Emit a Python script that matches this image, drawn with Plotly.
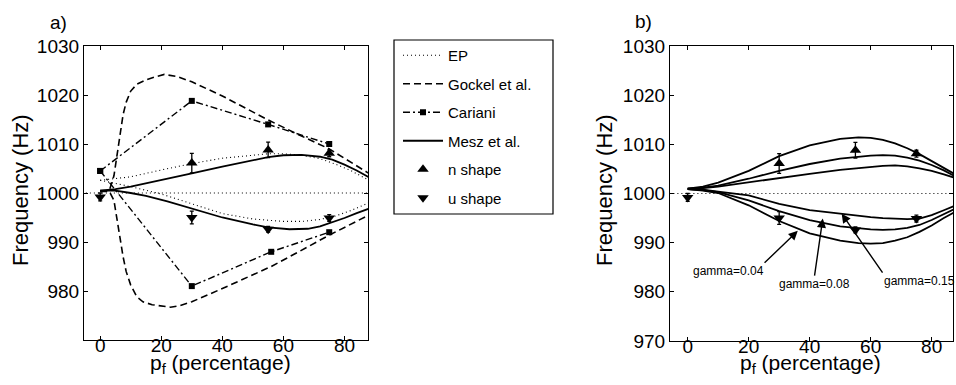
import plotly.graph_objects as go

# ---------------- data: panel a ----------------
ep_flat_x = [-6, 90]
ep_flat_y = [1000, 1000]
ep_up_x = [0, 10, 20, 30, 40, 50, 55, 60, 66, 72, 77, 82, 88]
ep_up_y = [1002.6, 1003.3, 1004.7, 1006.0, 1007.1, 1007.8, 1008.0, 1008.0, 1007.7, 1007.0, 1005.9, 1004.6, 1002.6]
ep_lo_x = [0, 10, 20, 24, 30, 40, 50, 60, 66, 72, 77, 82, 88]
ep_lo_y = [1002.6, 1001.3, 999.8, 999.0, 997.8, 995.8, 994.7, 994.2, 994.2, 994.6, 995.3, 996.4, 998.0]

gockel_up_x = [0, 3, 4.5, 5.5, 6.5, 7.5, 8.5, 10, 12, 15, 18, 21, 25, 30, 40, 55, 65, 75, 88]
gockel_up_y = [1000.3, 1000.5, 1003.5, 1008.0, 1012.5, 1016.0, 1018.5, 1020.8, 1022.2, 1023.1, 1023.7, 1024.2, 1023.8, 1022.7, 1019.8, 1014.9, 1011.9, 1009.0, 1004.0]
gockel_lo_x = [0, 3, 4.5, 5.5, 6.5, 7.5, 8.5, 10, 12, 14, 17, 20, 23, 26, 30, 40, 56, 65, 75, 88]
gockel_lo_y = [1000.3, 1000.3, 998.5, 994.5, 990.5, 987.0, 984.0, 981.2, 978.8, 977.8, 977.2, 976.9, 976.7, 977.0, 977.8, 980.5, 985.0, 988.0, 991.4, 995.5]

cariani_up_x = [0, 30, 55, 75]
cariani_up_y = [1004.5, 1018.8, 1014.0, 1010.0]
cariani_lo_x = [0, 30, 56, 75]
cariani_lo_y = [1004.5, 981.0, 988.0, 992.0]

mesz_up_x = [0, 5, 10, 20, 30, 40, 50, 55, 60, 66, 72, 76, 80, 84, 88]
mesz_up_y = [1000.5, 1000.8, 1001.3, 1002.6, 1004.0, 1005.4, 1006.7, 1007.3, 1007.7, 1007.8, 1007.4, 1006.8, 1005.8, 1004.6, 1003.2]
mesz_lo_x = [0, 5, 10, 15, 22, 30, 40, 50, 55, 62, 68, 72, 76, 80, 84, 88]
mesz_lo_y = [1000.5, 1000.5, 1000.0, 999.4, 998.3, 996.8, 995.0, 993.6, 993.0, 992.6, 992.7, 993.2, 994.0, 994.9, 995.9, 996.8]

n_x = [30, 55, 75]
n_y = [1006.1, 1008.8, 1008.1]
n_err = [2.0, 1.6, 0.7]
u_x = [0, 30, 55, 75]
u_y = [999.2, 995.0, 992.6, 994.9]
u_err = [0.8, 1.3, 0.6, 0.7]

# ---------------- data: panel b (Mesz et al., three gammas) ----------------
gb_x = [0, 5, 10, 20, 30, 40, 50, 56, 60, 64, 68, 72, 76, 80, 84, 88]
g004_up = [1001.0, 1001.4, 1002.2, 1004.6, 1007.6, 1009.8, 1011.1, 1011.4, 1011.3, 1010.9, 1010.2, 1009.2, 1008.0, 1006.6, 1005.1, 1003.8]
g008_up = [1001.0, 1001.2, 1001.6, 1003.0, 1004.6, 1006.0, 1007.1, 1007.5, 1007.7, 1007.8, 1007.7, 1007.3, 1006.7, 1005.8, 1004.7, 1003.4]
g015_up = [1001.0, 1001.1, 1001.4, 1002.3, 1003.2, 1004.0, 1004.8, 1005.2, 1005.4, 1005.6, 1005.7, 1005.5, 1005.1, 1004.6, 1003.9, 1003.1]
g015_lo = [1000.9, 1000.8, 1000.4, 999.6, 997.9, 996.6, 995.9, 995.4, 995.2, 995.0, 994.9, 994.8, 994.9, 995.6, 996.6, 997.6]
g008_lo = [1000.9, 1000.7, 1000.3, 998.6, 996.4, 994.6, 993.3, 992.9, 992.7, 992.6, 992.7, 993.0, 993.6, 994.6, 995.8, 997.0]
g004_lo = [1000.9, 1000.6, 1000.1, 997.6, 994.4, 991.9, 990.4, 989.9, 989.8, 989.9, 990.4, 991.1, 992.2, 993.5, 995.0, 996.4]

gamma_labels = ["gamma=0.04", "gamma=0.08", "gamma=0.15"]

x_ticks = [0, 20, 40, 60, 80]
ya_ticks = [980, 990, 1000, 1010, 1020, 1030]
yb_ticks = [970, 980, 990, 1000, 1010, 1020, 1030]

FONT = "Liberation Sans, Arial, Helvetica, sans-serif"
W, H = 956, 385

fig = go.Figure()

def line(x, y, name, dash, width, group, show, axis="a", mode="lines", marker=None):
    xa, ya = ("x", "y") if axis == "a" else ("x2", "y2")
    fig.add_trace(go.Scatter(
        x=x, y=y, mode=mode, name=name, legendgroup=group, showlegend=show,
        line=dict(color="black", width=width, dash=dash),
        marker=marker, xaxis=xa, yaxis=ya, hoverinfo="skip"))

DOT = "1px,3px"
DASH = "7px,4px"
DASHDOT = "7px,3px,2px,3px"

# panel a
line(ep_flat_x, ep_flat_y, "EP", DOT, 1.1, "ep", True)
line(ep_up_x, ep_up_y, "EP", DOT, 1.1, "ep", False)
line(ep_lo_x, ep_lo_y, "EP", DOT, 1.1, "ep", False)
line(gockel_up_x, gockel_up_y, "Gockel et al.", DASH, 1.6, "gockel", True)
line(gockel_lo_x, gockel_lo_y, "Gockel et al.", DASH, 1.6, "gockel", False)
sq = dict(symbol="square", size=6, color="black")
line(cariani_up_x, cariani_up_y, "Cariani", DASHDOT, 1.4, "cariani", True, mode="lines+markers", marker=sq)
line(cariani_lo_x, cariani_lo_y, "Cariani", DASHDOT, 1.4, "cariani", False, mode="lines+markers", marker=sq)
line(mesz_up_x, mesz_up_y, "Mesz et al.", "solid", 1.8, "mesz", True)
line(mesz_lo_x, mesz_lo_y, "Mesz et al.", "solid", 1.8, "mesz", False)

def pts(x, y, err, name, sym, show, axis):
    xa, ya = ("x", "y") if axis == "a" else ("x2", "y2")
    fig.add_trace(go.Scatter(
        x=x, y=y, mode="markers", name=name, legendgroup=name, showlegend=show,
        marker=dict(symbol=sym, size=10, color="black"),
        error_y=dict(type="data", array=err, color="black", thickness=1.3, width=2),
        xaxis=xa, yaxis=ya, hoverinfo="skip"))

pts(n_x, n_y, n_err, "n shape", "triangle-up", True, "a")
pts(u_x, u_y, u_err, "u shape", "triangle-down", True, "a")

# panel b
line(ep_flat_x, ep_flat_y, "EP", DOT, 1.1, "ep", False, axis="b")
for yy in [g004_up, g008_up, g015_up, g015_lo, g008_lo, g004_lo]:
    line(gb_x, yy, "Mesz et al.", "solid", 1.8, "mesz", False, axis="b")
pts(n_x, n_y, n_err, "n shape", "triangle-up", False, "b")
pts(u_x, u_y, u_err, "u shape", "triangle-down", False, "b")

axis_common = dict(
    showline=True, linecolor="black", linewidth=1.2, mirror="ticks",
    ticks="inside", ticklen=4, tickcolor="black", tickwidth=1,
    showgrid=False, zeroline=False, automargin=False,
    tickfont=dict(family=FONT, size=19, color="black"),
)

fig.update_layout(
    template="none",
    width=W, height=H, autosize=False,
    margin=dict(l=0, r=0, t=0, b=0, pad=0, autoexpand=False),
    paper_bgcolor="white", plot_bgcolor="white",
    font=dict(family=FONT, color="black"),
    xaxis=dict(domain=[84 / W, 368 / W], range=[-5.3, 87.7], tickvals=x_ticks, anchor="y",
               ticklabelstandoff=-12, **axis_common),
    yaxis=dict(domain=[1 - 340 / H, 1 - 46 / H], range=[970, 1030], tickvals=ya_ticks, anchor="x", **axis_common),
    xaxis2=dict(domain=[670 / W, 953 / W], range=[-5.8, 87.0], tickvals=x_ticks, anchor="y2",
                ticklabelstandoff=-12, **axis_common),
    yaxis2=dict(domain=[1 - 341 / H, 1 - 46 / H], range=[970, 1030], tickvals=yb_ticks, anchor="x2", **axis_common),
    showlegend=True,
    legend=dict(
        x=398 / W, y=1 - 39 / H, xanchor="left", yanchor="top",
        traceorder="grouped", tracegroupgap=6.0, itemwidth=40,
        font=dict(family=FONT, size=15, color="black"),
        bgcolor="rgba(0,0,0,0)", borderwidth=0,
    ),
)

# legend frame
fig.add_shape(type="rect", xref="paper", yref="paper",
              x0=394 / W, x1=553 / W, y0=1 - 214 / H, y1=1 - 40 / H,
              line=dict(color="black", width=1.2), fillcolor="rgba(0,0,0,0)")

def paper_text(text, xc, yc, size, angle=0):
    fig.add_annotation(text=text, x=xc / W, y=1 - yc / H, xref="paper", yref="paper",
                       xanchor="center", yanchor="middle", textangle=angle,
                       showarrow=False, font=dict(family=FONT, size=size, color="black"))

# panel labels
paper_text("a)", 58, 22, 19)
paper_text("b)", 643, 21, 19)
# axis titles
for xc in [21, 605]:
    paper_text("Frequency (Hz)", xc, 190, 22, angle=-90)
for xc in [220, 810]:
    paper_text("p<sub>f</sub> (percentage)", xc, 364, 21)

# gamma annotations in panel b: text box anchored at the arrow tail
tips = [(36.1, 992.4), (44.3, 994.9), (50.5, 995.9)]
tails = [(25.2, 985.9), (41.6, 983.3), (63.9, 983.9)]
anchors = ["right", "center", "left"]
for lab, (tx, ty), (ax, ay), xa in zip(gamma_labels, tips, tails, anchors):
    fig.add_annotation(x=tx, y=ty, ax=ax, ay=ay, xref="x2", yref="y2", axref="x2", ayref="y2",
                       text=lab, showarrow=True, arrowhead=2, arrowsize=1.3, arrowwidth=1.4,
                       arrowcolor="black", xanchor=xa, yanchor="top", borderpad=0,
                       font=dict(family=FONT, size=12, color="black"))

fig.write_html("out.html", config={"displayModeBar": False},
               post_script="document.body.style.margin='0px';document.body.style.overflow='hidden';")
